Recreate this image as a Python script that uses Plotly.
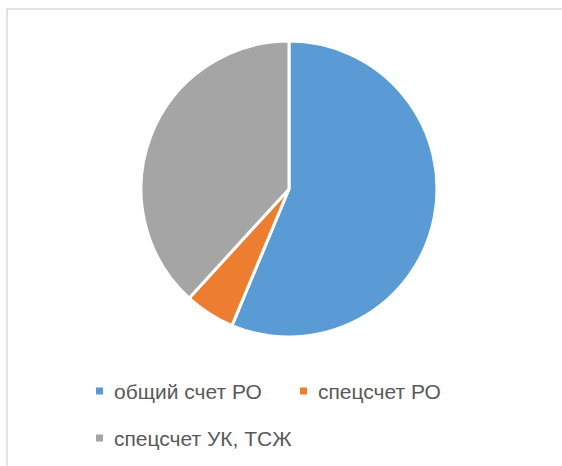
import plotly.graph_objects as go

labels = ["общий счет РО", "спецсчет РО", "спецсчет УК, ТСЖ"]
values = [56.3, 5.5, 38.2]
colors = ["#5B9BD5", "#ED7D31", "#A5A5A5"]

W, H = 562, 466

def px(x):
    return x / W

def py(y):
    return 1 - y / H

cx, cy, r = 289, 189, 148

fig = go.Figure(go.Pie(
    labels=labels,
    values=values,
    marker=dict(colors=colors, line=dict(color="white", width=3)),
    sort=False,
    direction="clockwise",
    rotation=0,
    textinfo="none",
    hoverinfo="label+percent",
    showlegend=False,
    domain=dict(x=[px(cx - r), px(cx + r)], y=[py(cy + r), py(cy - r)]),
))

# legend entries (positions for each label)
leg_pos = [(96, 391), (300, 391), (96, 438)]
shapes = [
    dict(type="line", xref="paper", yref="paper", x0=px(7), y0=py(466), x1=px(7), y1=py(9),
         line=dict(color="#D9D9D9", width=1.5)),
    dict(type="line", xref="paper", yref="paper", x0=px(7), y0=py(9), x1=px(562), y1=py(9),
         line=dict(color="#D9D9D9", width=1.5)),
]
annotations = []
for (lx, ly), lab, col in zip(leg_pos, labels, colors):
    shapes.append(dict(type="rect", xref="paper", yref="paper",
                       x0=px(lx), x1=px(lx + 7), y0=py(ly + 3.5), y1=py(ly - 3.5),
                       fillcolor=col, line=dict(width=0)))
    annotations.append(dict(text=lab, xref="paper", yref="paper", x=px(lx + 16), y=py(ly),
                            xanchor="left", yanchor="middle", showarrow=False,
                            font=dict(family="Liberation Sans, Arial, sans-serif", size=21, color="#595959")))

fig.update_layout(
    width=W, height=H,
    margin=dict(l=0, r=0, t=0, b=0),
    paper_bgcolor="white",
    plot_bgcolor="white",
    shapes=shapes,
    annotations=annotations,
)

fig.write_html("out.html", config={"displayModeBar": False})

with open("out.html", encoding="utf-8") as f:
    html = f.read()
html = html.replace("<body>", '<body style="margin:0;padding:0;overflow:hidden">', 1)
with open("out.html", "w", encoding="utf-8") as f:
    f.write(html)
